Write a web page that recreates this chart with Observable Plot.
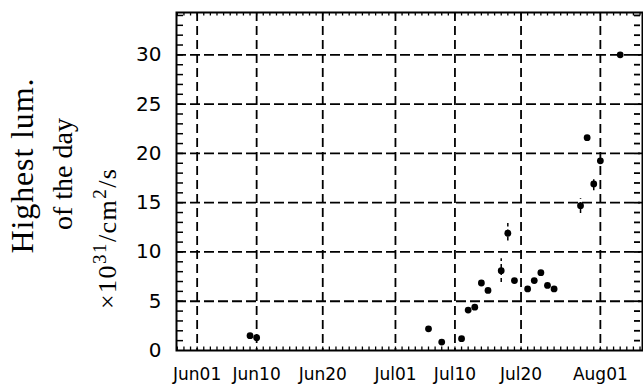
<!DOCTYPE html>
<html>
<head>
<meta charset="utf-8">
<script src="https://cdn.jsdelivr.net/npm/d3@7"></script>
<script src="https://cdn.jsdelivr.net/npm/@observablehq/plot@0.6"></script>
<style>
  html, body { margin: 0; padding: 0; background: #fff; }
  #chart { position: relative; width: 643px; height: 386px; }
  #chart svg { display: block; }
  #title { position: absolute; left: 0; top: 0; }
</style>
</head>
<body>
<div id="chart"></div>
<script>
// ---- data ----
const dates = ["1995-06-09","1995-06-10","1995-07-06","1995-07-08","1995-07-11","1995-07-12",
  "1995-07-13","1995-07-14","1995-07-15","1995-07-17","1995-07-18","1995-07-19","1995-07-21",
  "1995-07-22","1995-07-23","1995-07-24","1995-07-25","1995-07-29","1995-07-30","1995-07-31",
  "1995-08-01","1995-08-04"];
const lum = [1.5, 1.3, 2.2, 0.85, 1.2, 4.1, 4.4, 6.85, 6.1, 8.1, 11.9, 7.1, 6.25, 7.1, 7.9, 6.6,
  6.25, 14.7, 21.6, 16.9, 19.25, 30.0];
const errDates = ["1995-07-17","1995-07-18","1995-07-29","1995-07-31"];
const errLow = [6.9, 11.1, 13.9, 16.2];
const errHigh = [9.3, 12.9, 15.4, 17.6];
const xTickDates = ["1995-06-01","1995-06-10","1995-06-20","1995-07-01","1995-07-10","1995-07-20","1995-08-01"];
const xTickLabels = ["Jun01","Jun10","Jun20","Jul01","Jul10","Jul20","Aug01"];
const yTicks = [0, 5, 10, 15, 20, 25, 30];
const yGrid = [5, 10, 15, 20, 25, 30];
const xDomain = ["1995-05-28T21:00Z", "1995-08-07T09:00Z"];
const yDomain = [0, 34.3];

// ---- build ----
const parse = s => new Date(s.length === 10 ? s + "T00:00Z" : s);
const points = dates.map((d, i) => ({date: parse(d), lum: lum[i]}));
const errs = errDates.map((d, i) => ({date: parse(d), lo: errLow[i], hi: errHigh[i]}));
const xTicks = xTickDates.map(parse);
const labelOf = new Map(xTicks.map((d, i) => [+d, xTickLabels[i]]));
const xd = xDomain.map(parse);
const minorDays = d3.utcDay.range(d3.utcDay.ceil(xd[0]), xd[1]);
const minorY = d3.range(1, 35);

const W = 643, H = 386, mt = 12, mr = 1, mb = 36, ml = 176;
const fw = W - ml - mr, fh = H - mt - mb;
// pixel lengths of the little inner ticks, converted to data units
const pxPerY = fh / (yDomain[1] - yDomain[0]);
const msPerPx = (xd[1] - xd[0]) / fw;
const yTick = 3.5 / pxPerY;
const at = (d, px) => new Date(+d + px * msPerPx);

const svg = Plot.plot({
  width: W, height: H,
  marginTop: mt, marginRight: mr, marginBottom: mb, marginLeft: ml,
  style: {fontFamily: "DejaVu Sans", background: "#fff", color: "#000"},
  x: {type: "utc", domain: xd, label: null},
  y: {domain: yDomain, label: null},
  marks: [
    // dashed grid
    Plot.ruleY(yGrid, {y: d => d, stroke: "#000", strokeWidth: 1.8, strokeDasharray: "10,4"}),
    Plot.ruleX(xTicks, {x: d => d, stroke: "#000", strokeWidth: 1.8, strokeDasharray: "9,5"}),
    // minor ticks inside the frame
    Plot.ruleX(minorDays, {x: d => d, y1: yDomain[0], y2: yDomain[0] + yTick, stroke: "#000", strokeWidth: 1.3}),
    Plot.ruleX(minorDays, {x: d => d, y1: yDomain[1] - yTick, y2: yDomain[1], stroke: "#000", strokeWidth: 1.3}),
    Plot.ruleY(minorY, {y: d => d, x1: xd[0], x2: at(xd[0], 7), stroke: "#000", strokeWidth: 1.5}),
    Plot.ruleY(minorY, {y: d => d, x1: at(xd[1], -8), x2: at(xd[1], -2), stroke: "#000", strokeWidth: 1.8}),
    Plot.frame({stroke: "#000", strokeWidth: 2}),
    // error bars
    Plot.ruleX(errs, {x: "date", y1: "lo", y2: "hi", stroke: "#000", strokeWidth: 1.5, strokeDasharray: "4,3"}),
    // points
    Plot.dot(points, {x: "date", y: "lum", r: 3.4, fill: "#000", stroke: "none"}),
    // axes
    Plot.axisY(yTicks, {tickSize: 0, tickPadding: 15, fontSize: 20, fill: "#000"}),
    Plot.axisX(xTicks, {tickSize: 0, tickPadding: 17, fontSize: 17, fill: "#000",
      tickFormat: d => labelOf.get(+d)})
  ]
});
const chart = document.getElementById("chart");
chart.appendChild(svg);

// y-axis title (rotated, serif) in a separate overlay svg
const tsvg = d3.select(chart).append("svg")
  .attr("id", "title")
  .attr("width", 170).attr("height", H);
const g = tsvg.append("g")
  .attr("fill", "#000")
  .attr("text-anchor", "middle")
  .attr("font-family", "Liberation Serif, DejaVu Serif, serif");
g.append("text")
  .attr("transform", "translate(33,166) rotate(-90)")
  .attr("font-size", 32)
  .attr("textLength", 175)
  .attr("lengthAdjust", "spacing")
  .text("Highest lum.");
g.append("text")
  .attr("transform", "translate(72,174) rotate(-90)")
  .attr("font-size", 28)
  .attr("textLength", 112)
  .attr("lengthAdjust", "spacing")
  .text("of the day");
const t3 = g.append("text")
  .attr("transform", "translate(116,239) rotate(-90)")
  .attr("font-size", 26)
  .attr("textLength", 140)
  .attr("lengthAdjust", "spacing");
t3.append("tspan").text("×10");
t3.append("tspan").attr("dy", -10).attr("font-size", 19).text("31");
t3.append("tspan").attr("dy", 10).text("/cm");
t3.append("tspan").attr("dy", -10).attr("font-size", 19).text("2");
t3.append("tspan").attr("dy", 10).text("/s");
</script>
</body>
</html>
